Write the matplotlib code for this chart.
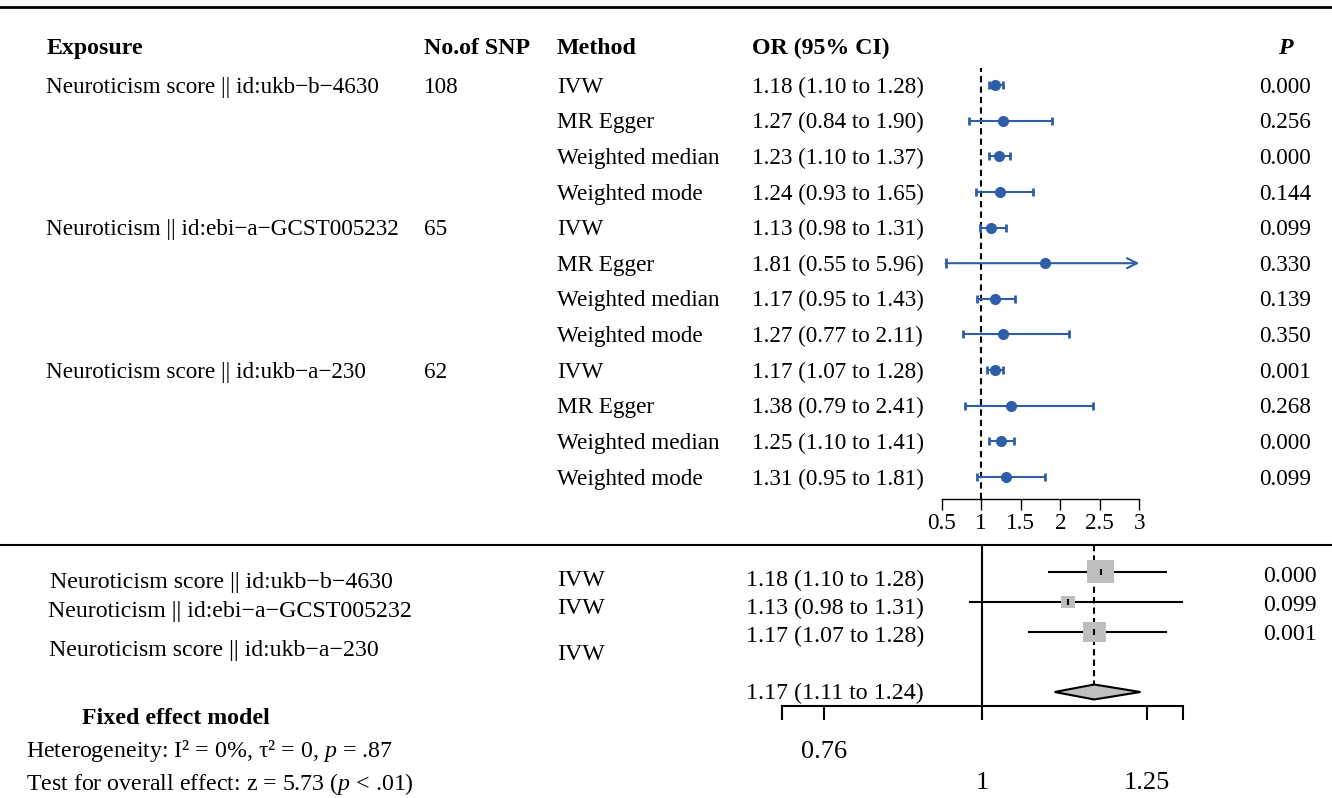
import matplotlib
matplotlib.use('Agg')
import matplotlib.pyplot as plt
from matplotlib.patches import Rectangle, Polygon
from matplotlib.lines import Line2D
from matplotlib.transforms import blended_transform_factory
import numpy as np

plt.rcParams['font.family'] = ['Liberation Serif', 'DejaVu Serif']
plt.rcParams['mathtext.fontset'] = 'custom'
plt.rcParams['mathtext.rm'] = 'Liberation Serif'
plt.rcParams['mathtext.it'] = 'Liberation Serif:italic'
plt.rcParams['mathtext.bf'] = 'Liberation Serif:bold'

# ---------------- data ----------------
exposures = ["Neuroticism score || id:ukb\u2212b\u22124630",
             "Neuroticism || id:ebi\u2212a\u2212GCST005232",
             "Neuroticism score || id:ukb\u2212a\u2212230"]
n_snp = [108, 65, 62]
methods = ["IVW", "MR Egger", "Weighted median", "Weighted mode"]
or_est = [1.18, 1.27, 1.23, 1.24, 1.13, 1.81, 1.17, 1.27, 1.17, 1.38, 1.25, 1.31]
or_lo = [1.10, 0.84, 1.10, 0.93, 0.98, 0.55, 0.95, 0.77, 1.07, 0.79, 1.10, 0.95]
or_hi = [1.28, 1.90, 1.37, 1.65, 1.31, 5.96, 1.43, 2.11, 1.28, 2.41, 1.41, 1.81]
p_vals = ["0.000", "0.256", "0.000", "0.144", "0.099", "0.330",
          "0.139", "0.350", "0.001", "0.268", "0.000", "0.099"]
top_ticks = [0.5, 1, 1.5, 2, 2.5, 3]

meta_or = [1.18, 1.13, 1.17]
meta_lo = [1.10, 0.98, 1.07]
meta_hi = [1.28, 1.31, 1.28]
meta_p = ["0.000", "0.099", "0.001"]
meta_weight = [50.3, 13.7, 36.0]
pooled_or, pooled_lo, pooled_hi = 1.17, 1.11, 1.24
bottom_ticks = [0.76, 1, 1.25]

# ---------------- figure ----------------
W, H = 1332, 798
fig = plt.figure(figsize=(W / 100, H / 100), dpi=100)


def fx(px):
    return px / W


def fy(py):
    return 1 - py / H


def txt(x, y, s, size=16, ha='left', **kw):
    # y is the visual centre of capitals; place baseline below it
    base = y + 0.33 * size * 100 / 72
    fig.text(fx(x), fy(base), s, ha=ha, va='baseline', fontsize=size, **kw)


BLUE = '#2F5EA8'
FS = 16.7
FH = 17.2

# rules
fig.add_artist(Line2D([0, 1], [fy(7), fy(7)], lw=2, color='black'))
fig.add_artist(Line2D([0, 1], [fy(545), fy(545)], lw=1.5, color='black'))

# header
txt(47, 46, "Exposure", FH, weight='bold')
txt(424, 46, "No.of SNP", FH, weight='bold')
txt(557, 46, "Method", FH, weight='bold')
txt(752, 46, "OR (95% CI)", FH, weight='bold')
txt(1278, 46, "P", FH, weight='bold', style='italic')

row0, drow = 85, 35.64
n_rows = len(or_est)
for i in range(n_rows):
    y = row0 + drow * i
    g = i // len(methods)
    if i % len(methods) == 0:
        txt(46, y, exposures[g], FS)
        txt(424, y, str(n_snp[g]), FS)
    txt(557, y, methods[i % len(methods)], FS)
    txt(752, y, f"{or_est[i]:.2f} ({or_lo[i]:.2f} to {or_hi[i]:.2f})", FS)
    txt(1311, y, p_vals[i], FS, ha='right')

# top forest axes
ax = fig.add_axes([fx(941.7), fy(499), fx(1139.3 - 941.7), (499 - 68) / H])
ax.set_xlim(top_ticks[0], top_ticks[-1])
ax.set_ylim((499 - row0) / drow, (68 - row0) / drow)
for s in ['top', 'right', 'left']:
    ax.spines[s].set_visible(False)
ax.spines['bottom'].set_linewidth(1.0)
ax.set_yticks([])
ax.set_xticks(top_ticks)
ax.set_xticklabels([f"{t:g}" for t in top_ticks])
ax.tick_params(axis='x', direction='out', length=8, width=1.0, labelsize=FS, pad=2)
ax.patch.set_alpha(0)
ax.axvline(1, color='black', lw=1.5, dashes=(3, 2), zorder=1)
xmax = top_ticks[-1]
for i in range(n_rows):
    e, lo, hi = or_est[i], or_lo[i], or_hi[i]
    if hi > xmax:
        ax.annotate('', xy=(xmax, i), xytext=(lo, i),
                    arrowprops=dict(arrowstyle='->', color=BLUE, lw=1.5,
                                    shrinkA=0, shrinkB=0, mutation_scale=18),
                    annotation_clip=False)
        ax.plot([lo], [i], marker='|', ms=7, mew=2, color=BLUE)
        ax.plot([e], [i], marker='o', ms=7, color=BLUE, zorder=3)
    else:
        ax.errorbar(e, i, xerr=[[e - lo], [hi - e]], fmt='o', ms=7, color=BLUE,
                    ecolor=BLUE, elinewidth=1.5, capsize=3, capthick=2, zorder=3)

# bottom section text
FB = 17.2
bottom_expo_pos = [(50, 580), (48, 609), (49, 648)]
bottom_ivw_y = [578, 606, 652]
bottom_or_y = [578, 606, 634]
bottom_p_y = [574, 603, 632]
for k in range(3):
    txt(bottom_expo_pos[k][0], bottom_expo_pos[k][1], exposures[k], FB)
    txt(557, bottom_ivw_y[k], "IVW", FB)
    txt(746, bottom_or_y[k], f"{meta_or[k]:.2f} ({meta_lo[k]:.2f} to {meta_hi[k]:.2f})", FB)
    txt(1317, bottom_p_y[k], meta_p[k], FB, ha='right')
txt(746, 691, f"{pooled_or:.2f} ({pooled_lo:.2f} to {pooled_hi:.2f})", FB)
txt(82, 716, "Fixed effect model", FB, weight='bold')
txt(26, 749, "Heterogeneity: I\u00b2 = 0%, \u03c4\u00b2 = 0, $p$ = .87", FB)
txt(26, 782, "Test for overall effect: z = 5.73 ($p$ < .01)", FB)

# bottom forest axes
bx = fig.add_axes([fx(782), fy(706), fx(1183 - 782), (706 - 545) / H])
bx.set_xlim(0.697, 1.3045)
bx.set_ylim(4.467, -0.9)
for s in ['top', 'right', 'left']:
    bx.spines[s].set_visible(False)
bx.spines['bottom'].set_linewidth(1.5)
bx.set_yticks([])
xl = bx.get_xlim()
bx.set_xticks([xl[0]] + bottom_ticks + [xl[1]])
bx.set_xticklabels([])
bx.tick_params(axis='x', direction='out', length=10, width=1.5)
bx.patch.set_alpha(0)
bx.axvline(1, color='black', lw=1.5, zorder=1)
bx.plot([pooled_or, pooled_or], [-0.9, 3.75], color='black', lw=1.5,
        dashes=(3, 2), zorder=1)
px_per_x = (1183 - 782) / (xl[1] - xl[0])
px_per_row = 30.0
wmax = max(meta_weight)
for k in range(3):
    bx.hlines(k, meta_lo[k], meta_hi[k], color='black', lw=1.5, zorder=2)
    sc = np.sqrt(meta_weight[k] / wmax)
    wd = 27 * sc / px_per_x
    ht = 23 * sc / px_per_row
    bx.add_patch(Rectangle((meta_or[k] - wd / 2, k - ht / 2), wd, ht,
                           facecolor='#BEBEBE', edgecolor='none', zorder=3))
    bx.plot([meta_or[k]], [k], marker='|', ms=5, mew=1.5, color='black', zorder=4)
hd = 7.5 / px_per_row
bx.add_patch(Polygon([(pooled_lo, 4), (pooled_or, 4 - hd), (pooled_hi, 4), (pooled_or, 4 + hd)],
                     closed=True, facecolor='#C0C0C0', edgecolor='black', lw=1.5, zorder=3))
tr = blended_transform_factory(bx.transData, fig.transFigure)
label_y = [752, 783, 783]
for t, ly in zip(bottom_ticks, label_y):
    bx.text(t, fy(ly), f"{t:g}", transform=tr, ha='center', va='center', fontsize=19)

fig.savefig('out.png', dpi=100)
